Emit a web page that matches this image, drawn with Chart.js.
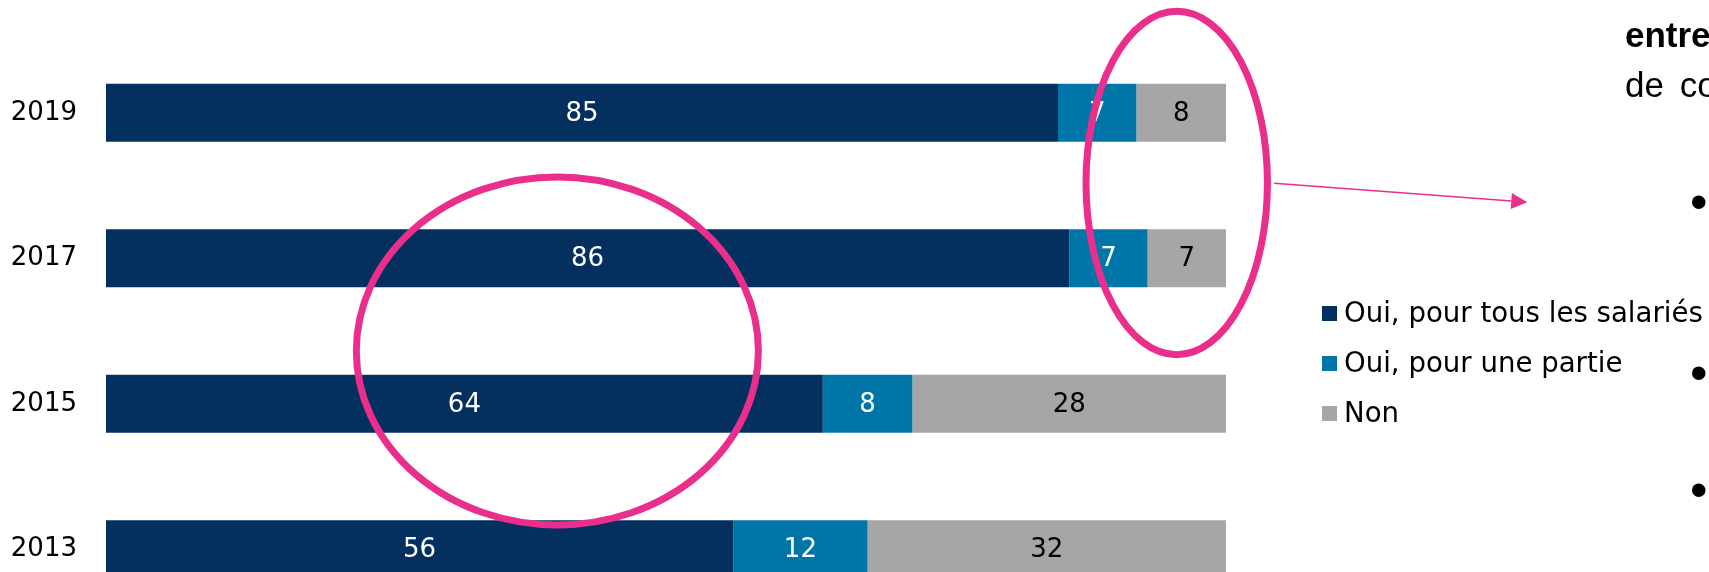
<!DOCTYPE html>
<html lang="fr">
<head>
<meta charset="utf-8">
<script src="https://cdn.jsdelivr.net/npm/chart.js@4.4.1/dist/chart.umd.min.js"></script>
<style>
    html, body {
        margin: 0;
        padding: 0;
        background: #ffffff;
        overflow: hidden;
        width: 1709px;
        height: 572px;
    }
    #clip {
        position: absolute;
        left: 0;
        top: 0;
        width: 1709px;
        height: 572px;
        overflow: hidden;
    }
    #chart {
        display: block;
        width: 1709px;
        height: 622px;
    }
    #legend {
        position: absolute;
        left: 1322px;
        top: 288px;
        font-family: 'DejaVu Sans', Verdana, sans-serif;
        font-size: 27.6px;
        color: #000000;
    }
    .legend-item {
        position: relative;
        height: 50px;
        line-height: 50px;
        padding-left: 22px;
        white-space: nowrap;
    }
    .legend-box {
        position: absolute;
        left: 0;
        top: 18px;
        width: 15px;
        height: 15px;
    }
    .side {
        position: absolute;
        left: 1625px;
        font-family: 'Liberation Sans', Arial, sans-serif;
        font-size: 35px;
        line-height: 35px;
        white-space: nowrap;
        color: #000000;
    }
    .bullet {
        position: absolute;
        left: 1690px;
        font-family: 'Liberation Sans', Arial, sans-serif;
        font-size: 50px;
        line-height: 50px;
        color: #000000;
    }
</style>
</head>
<body>
<div id="clip">
    <!-- the canvas is taller than the page: the bottom row runs past the lower edge, as in the slide -->
    <canvas id="chart" width="1709" height="622"></canvas>
    <div id="legend"></div>
    <div class="side" style="top:17px; font-weight:bold;">entre</div>
    <div class="side" style="top:67.4px; word-spacing:6px;">de co</div>
    <div class="bullet" style="top:177px;">•</div>
    <div class="bullet" style="top:348px;">•</div>
    <div class="bullet" style="top:465px;">•</div>
</div>
<script>
// Survey answers per year, in %
const years = ['2019', '2017', '2015', '2013'];
const seriesNames = ['Oui, pour tous les salariés', 'Oui, pour une partie', 'Non'];
const tousValues = [85, 86, 64, 56];
const partieValues = [7, 7, 8, 12];
const nonValues = [8, 7, 28, 32];

const seriesColors = ['#03305f', '#0076a8', '#a6a6a6'];
const labelColors = ['#ffffff', '#ffffff', '#000000'];

// Pink highlight rings and arrow, in data units (x = %, y = category index)
const ringCenters = [[95.6, 0.483], [40.3, 1.637]];
const ringRadii = [[8.1, 1.18], [17.95, 1.196]];
const arrowFrom = [104.3, 0.485];
const arrowTo = [126.9, 0.615];
const highlightColor = '#ea2e8c';

Chart.defaults.font.family = "'DejaVu Sans', Verdana, sans-serif";
Chart.defaults.color = '#000000';

const valueLabels = {
    id: 'valueLabels',
    afterDatasetsDraw(chart) {
        const ctx = chart.ctx;
        ctx.save();
        ctx.font = "26px 'DejaVu Sans', Verdana, sans-serif";
        ctx.textAlign = 'center';
        ctx.textBaseline = 'middle';
        chart.data.datasets.forEach((dataset, i) => {
            const meta = chart.getDatasetMeta(i);
            meta.data.forEach((bar, j) => {
                ctx.fillStyle = labelColors[i];
                ctx.fillText(String(dataset.data[j]), (bar.x + bar.base) / 2, bar.y + 1);
            });
        });
        ctx.restore();
    }
};

const highlights = {
    id: 'highlights',
    afterDraw(chart) {
        const ctx = chart.ctx;
        const xs = chart.scales.x;
        const ys = chart.scales.y;
        const px = (v) => xs.getPixelForValue(v);
        const py = (v) => ys.getPixelForValue(v);

        ctx.save();
        ctx.strokeStyle = highlightColor;
        ctx.fillStyle = highlightColor;

        // rings
        ctx.lineWidth = 7;
        ringCenters.forEach((c, i) => {
            const cx = px(c[0]);
            const cy = py(c[1]);
            const rx = Math.abs(px(c[0] + ringRadii[i][0]) - cx);
            const ry = Math.abs(py(c[1] + ringRadii[i][1]) - cy);
            ctx.beginPath();
            ctx.ellipse(cx, cy, rx, ry, 0, 0, Math.PI * 2);
            ctx.stroke();
        });

        // arrow
        const x1 = px(arrowFrom[0]);
        const y1 = py(arrowFrom[1]);
        const x2 = px(arrowTo[0]);
        const y2 = py(arrowTo[1]);
        const angle = Math.atan2(y2 - y1, x2 - x1);
        const headLen = 16;
        const headHalf = 8;
        const bx = x2 - headLen * Math.cos(angle);
        const by = y2 - headLen * Math.sin(angle);
        ctx.lineWidth = 1.6;
        ctx.beginPath();
        ctx.moveTo(x1, y1);
        ctx.lineTo(bx, by);
        ctx.stroke();
        ctx.beginPath();
        ctx.moveTo(x2, y2);
        ctx.lineTo(bx - headHalf * Math.sin(angle), by + headHalf * Math.cos(angle));
        ctx.lineTo(bx + headHalf * Math.sin(angle), by - headHalf * Math.cos(angle));
        ctx.closePath();
        ctx.fill();
        ctx.restore();
    }
};

const chart = new Chart(document.getElementById('chart'), {
    type: 'bar',
    data: {
        labels: years,
        datasets: [
            { label: seriesNames[0], data: tousValues, backgroundColor: seriesColors[0] },
            { label: seriesNames[1], data: partieValues, backgroundColor: seriesColors[1] },
            { label: seriesNames[2], data: nonValues, backgroundColor: seriesColors[2] }
        ]
    },
    options: {
        indexAxis: 'y',
        responsive: false,
        animation: false,
        layout: {
            padding: { top: 40, right: 483, bottom: 0, left: 0 }
        },
        datasets: {
            bar: {
                categoryPercentage: 1,
                barPercentage: 0.4,
                borderWidth: 0
            }
        },
        scales: {
            x: {
                stacked: true,
                min: 0,
                max: 100,
                display: false
            },
            y: {
                stacked: true,
                grid: { display: false, drawTicks: false },
                border: { display: false },
                ticks: {
                    color: '#000000',
                    padding: 29,
                    font: { size: 26 }
                },
                afterFit(scale) {
                    scale.width = 106;
                    // no extra room above/below the rows for the tick labels
                    scale.paddingTop = 0;
                    scale.paddingBottom = 0;
                }
            }
        },
        plugins: {
            legend: { display: false },
            tooltip: { enabled: false }
        }
    },
    plugins: [valueLabels, highlights]
});

// legend built from the chart's own datasets
const legendEl = document.getElementById('legend');
chart.data.datasets.forEach((dataset) => {
    const item = document.createElement('div');
    item.className = 'legend-item';
    const box = document.createElement('span');
    box.className = 'legend-box';
    box.style.background = dataset.backgroundColor;
    item.appendChild(box);
    item.appendChild(document.createTextNode(dataset.label));
    legendEl.appendChild(item);
});
</script>
</body>
</html>
